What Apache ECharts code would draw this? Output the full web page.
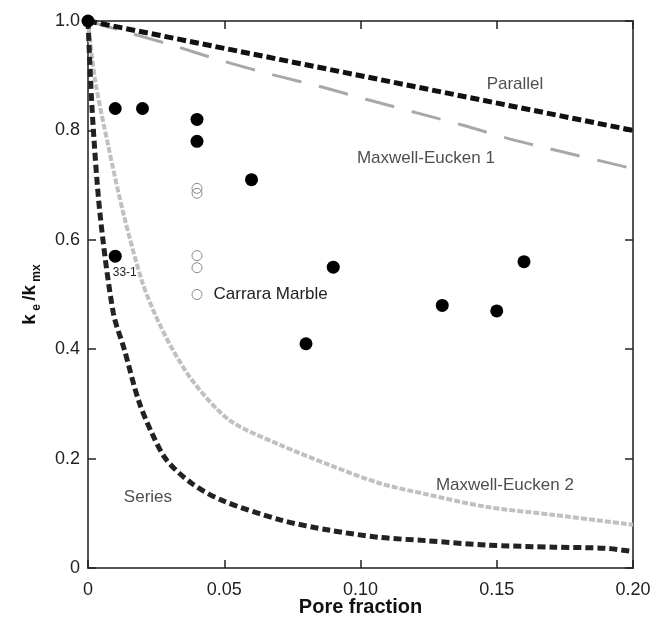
<!DOCTYPE html>
<html>
<head>
<meta charset="utf-8">
<script src="https://cdn.jsdelivr.net/npm/echarts@6/dist/echarts.min.js"></script>
<style>
  html, body { margin: 0; padding: 0; background: #fff; }
  #chart { width: 655px; height: 618px; }
</style>
</head>
<body>
<div id="chart"></div>
<script>
// Measured thermal conductivity ratio (filled) and Carrara Marble samples (open)
const measuredPoints = [
  [0, 1.0], [0.01, 0.84], [0.02, 0.84], [0.04, 0.82], [0.04, 0.78],
  [0.06, 0.71], [0.01, 0.57], [0.09, 0.55], [0.08, 0.41],
  [0.13, 0.48], [0.15, 0.47], [0.16, 0.56]
];
const carraraPoints = [
  [0.04, 0.694], [0.04, 0.685], [0.04, 0.571], [0.04, 0.549], [0.04, 0.50]
];

// Model bounds
const parallelCurve = [[0, 1.0], [0.2, 0.8]];
const maxwellEucken1Curve = [
  [0, 1.0], [0.0111, 0.984], [0.0307, 0.956], [0.0487, 0.928], [0.0668, 0.903],
  [0.0845, 0.881], [0.102, 0.857], [0.120, 0.833], [0.138, 0.809],
  [0.155, 0.784], [0.174, 0.761], [0.2, 0.730]
];
const maxwellEucken2Curve = [
  [0, 1.0], [0.0026, 0.892], [0.0075, 0.77], [0.013, 0.648], [0.0197, 0.526],
  [0.0245, 0.465], [0.031, 0.40], [0.039, 0.338], [0.052, 0.27],
  [0.0705, 0.225], [0.0888, 0.188], [0.107, 0.155], [0.124, 0.135],
  [0.146, 0.112], [0.171, 0.097], [0.2, 0.079]
];
const seriesCurve = [
  [0, 1.0], [0.0016, 0.83], [0.0044, 0.648], [0.0093, 0.466],
  [0.0133, 0.40], [0.0185, 0.307], [0.0234, 0.247], [0.0289, 0.197],
  [0.038, 0.155], [0.049, 0.124], [0.0705, 0.088], [0.0888, 0.069],
  [0.107, 0.056], [0.124, 0.050], [0.146, 0.042], [0.171, 0.038],
  [0.19, 0.036], [0.2, 0.030]
];

// Curve names written next to each curve
const curveLabels = [
  ['Parallel', 0.1567, 0.885],
  ['Maxwell-Eucken 1', 0.124, 0.749],
  ['Maxwell-Eucken 2', 0.153, 0.152],
  ['Series', 0.022, 0.130]
];

const xTicks = { min: 0, max: 0.2, step: 0.05 };
const yTicks = { min: 0, max: 1.0, step: 0.2 };

const FRAME = '#555';
const TEXT = '#222';
const FONT = 'Liberation Sans, Arial, sans-serif';

const chart = echarts.init(document.getElementById('chart'), null, { renderer: 'canvas' });

function frameAxis(extra) {
  return Object.assign({
    axisLine: { show: true, onZero: false, lineStyle: { color: FRAME, width: 2 } },
    axisTick: { show: true, inside: true, length: 8, lineStyle: { color: '#222', width: 1.5 } },
    splitLine: { show: false }
  }, extra);
}

const option = {
  backgroundColor: '#fff',
  animation: false,
  grid: { left: 88, right: 22, top: 21, bottom: 50, containLabel: false, outerBoundsMode: 'none' },
  xAxis: [
    frameAxis({
      type: 'value', min: xTicks.min, max: xTicks.max, interval: xTicks.step,
      position: 'bottom',
      axisLabel: {
        color: TEXT, fontSize: 18, fontFamily: FONT, margin: 13,
        formatter: v => (Math.abs(v) < 1e-9 ? '0' : v.toFixed(2))
      },
      name: 'Pore fraction', nameLocation: 'middle', nameGap: 29, nameMoveOverlap: false,
      nameTextStyle: { color: '#111', fontSize: 20, fontWeight: 'bold', fontFamily: FONT }
    }),
    frameAxis({
      type: 'value', min: xTicks.min, max: xTicks.max, interval: xTicks.step,
      position: 'top', axisLabel: { show: false }
    })
  ],
  yAxis: [
    frameAxis({
      type: 'value', min: yTicks.min, max: yTicks.max, interval: yTicks.step,
      position: 'left',
      axisLabel: {
        color: TEXT, fontSize: 18, fontFamily: FONT, margin: 8,
        formatter: v => (Math.abs(v) < 1e-9 ? '0' : v.toFixed(1))
      },
      name: '{b|k}{s| e }{b|/k}{s| mx}', nameLocation: 'middle', nameGap: 45,
      nameRotate: 90, nameMoveOverlap: false,
      nameTextStyle: {
        color: '#111', fontFamily: FONT,
        rich: {
          b: { fontSize: 19, fontWeight: 'bold', fontFamily: FONT, color: '#111', lineHeight: 26, verticalAlign: 'middle' },
          s: { fontSize: 12, fontWeight: 'bold', fontFamily: FONT, color: '#111', lineHeight: 12, verticalAlign: 'bottom' }
        }
      }
    }),
    frameAxis({
      type: 'value', min: yTicks.min, max: yTicks.max, interval: yTicks.step,
      position: 'right', axisLabel: { show: false }
    })
  ],
  series: [
    {
      name: 'Series', type: 'line', data: seriesCurve, showSymbol: false,
      smooth: 0.3, clip: false, silent: true,
      lineStyle: { color: '#222', width: 5, type: [8, 4], cap: 'butt' }, z: 3
    },
    {
      name: 'Maxwell-Eucken 2', type: 'line', data: maxwellEucken2Curve, showSymbol: false,
      smooth: 0.3, clip: false, silent: true,
      lineStyle: { color: '#c0c0c0', width: 4, type: [6, 2], cap: 'butt' }, z: 2
    },
    {
      name: 'Maxwell-Eucken 1', type: 'line', data: maxwellEucken1Curve, showSymbol: false,
      smooth: 0.3, clip: false, silent: true,
      lineStyle: { color: '#a8a8a8', width: 3, type: [30, 18], cap: 'butt' }, z: 2
    },
    {
      name: 'Parallel', type: 'line', data: parallelCurve, showSymbol: false,
      clip: false, silent: true,
      lineStyle: { color: '#111', width: 5, type: [9, 4], cap: 'butt' }, z: 3
    },
    {
      name: 'Carrara Marble', type: 'scatter', clip: false, symbol: 'circle', symbolSize: 10,
      itemStyle: { color: 'rgba(255,255,255,0)', borderColor: '#8a8a8a', borderWidth: 1, opacity: 1 },
      data: carraraPoints.map((p, i) => i === carraraPoints.length - 1
        ? { value: p, label: { show: true, formatter: 'Carrara Marble', position: 'right', distance: 11,
            color: TEXT, fontSize: 17, fontFamily: FONT } }
        : p),
      z: 4
    },
    {
      name: 'Measured', type: 'scatter', clip: false, symbol: 'circle', symbolSize: 13,
      itemStyle: { color: '#000', opacity: 1 },
      data: measuredPoints.map(p => (p[0] === 0.01 && p[1] === 0.57)
        ? { value: p, label: { show: true, formatter: '33-1', position: [4, 17], align: 'left',
            verticalAlign: 'top', color: TEXT, fontSize: 12, fontFamily: FONT } }
        : p),
      z: 5
    },
    {
      name: 'curve-labels', type: 'scatter', clip: false, symbolSize: 0, silent: true,
      data: curveLabels.map(c => ({ value: [c[1], c[2]], name: c[0] })),
      label: {
        show: true, position: 'inside', formatter: p => p.name,
        color: TEXT, fontSize: 17, fontFamily: FONT
      },
      z: 6
    }
  ]
};

chart.setOption(option);
</script>
</body>
</html>
